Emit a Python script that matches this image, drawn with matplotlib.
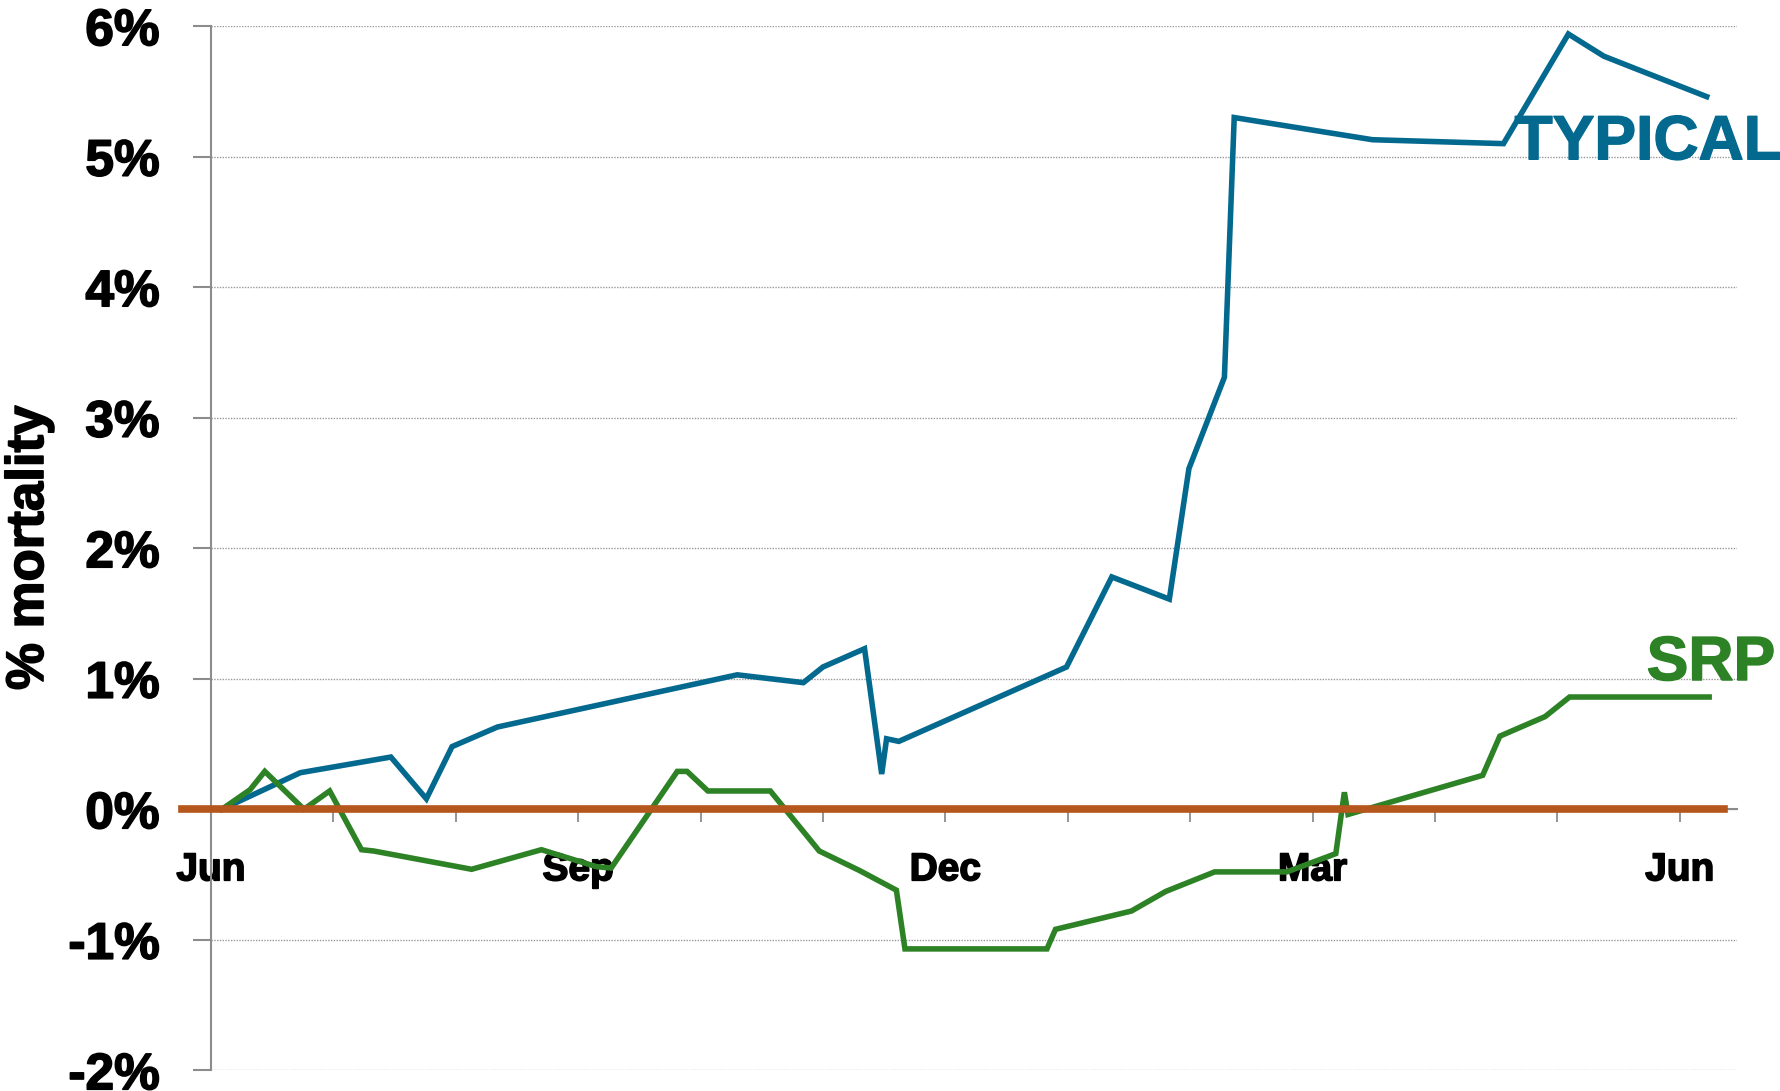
import matplotlib.pyplot as plt
import matplotlib.patheffects as pe
from matplotlib.ticker import FixedLocator, FuncFormatter

# months since June (0 = Jun, 12 = following Jun), values in % mortality
typical_x = [0.09, 0.73, 1.47, 1.76, 1.97, 2.34, 4.30, 4.84, 5.00, 5.34, 5.48, 5.52,
             5.62, 6.99, 7.36, 7.83, 7.99, 8.28, 8.36, 9.49, 10.56, 11.09, 11.38, 12.22]
typical_y = [0.00, 0.28, 0.40, 0.08, 0.48, 0.63, 1.03, 0.97, 1.09, 1.23, 0.27, 0.54,
             0.52, 1.09, 1.78, 1.61, 2.61, 3.31, 5.30, 5.13, 5.10, 5.94, 5.77, 5.46]

srp_x = [0.09, 0.32, 0.44, 0.76, 0.97, 1.23, 1.33, 2.13, 2.70, 3.15, 3.27, 3.81, 3.89,
         4.06, 4.57, 4.97, 5.30, 5.60, 5.67, 6.83, 6.90, 7.52, 7.80, 8.20, 8.79, 9.19,
         9.26, 9.29, 10.39, 10.53, 10.90, 11.10, 12.24]
srp_y = [0.00, 0.15, 0.29, 0.00, 0.14, -0.31, -0.32, -0.46, -0.31, -0.44, -0.45, 0.29, 0.29,
         0.14, 0.14, -0.32, -0.47, -0.62, -1.07, -1.07, -0.92, -0.78, -0.63, -0.48, -0.48, -0.34,
         0.13, -0.04, 0.26, 0.56, 0.71, 0.86, 0.86]

baseline_x = [-0.24, 12.36]
baseline_y = [0, 0]

month_ticks = list(range(13))
month_labels = {0: 'Jun', 3: 'Sep', 6: 'Dec', 9: 'Mar', 12: 'Jun'}
y_ticks = [-2, -1, 0, 1, 2, 3, 4, 5, 6]

blue = '#04698F'
green = '#2E8226'
orange = '#B5561C'
grey = '#8C8C8C'

plt.rcParams['font.family'] = ['Liberation Sans', 'DejaVu Sans']
plt.rcParams['font.weight'] = 'bold'

# the original uses a very heavy face, fake it with a thin outline
heavy = [pe.withStroke(linewidth=1.2, foreground='black')]

fig = plt.figure(figsize=(17.8, 10.91), dpi=100)
ax = fig.add_axes([0.1185, 0.019, 0.8575, 0.957])

ax.plot(typical_x, typical_y, color=blue, lw=4.0, solid_joinstyle='miter', zorder=3)
ax.plot(srp_x, srp_y, color=green, lw=4.0, solid_joinstyle='miter', zorder=3)
ax.plot(baseline_x, baseline_y, color=orange, lw=5.5, clip_on=False, zorder=4)

ax.set_xlim(0, 12.47)
ax.set_ylim(-2, 6)

for s in ['top', 'right']:
    ax.spines[s].set_visible(False)
ax.spines['left'].set_color(grey)
ax.spines['left'].set_linewidth(1.5)
ax.spines['bottom'].set_position(('data', 0))
ax.spines['bottom'].set_color(grey)
ax.spines['bottom'].set_linewidth(1.5)

ax.xaxis.set_major_locator(FixedLocator(month_ticks))
ax.xaxis.set_major_formatter(FuncFormatter(lambda v, p: month_labels.get(int(round(v)), '')))
ax.yaxis.set_major_locator(FixedLocator(y_ticks))
ax.yaxis.set_major_formatter(FuncFormatter(lambda v, p: '%d%%' % v))

ax.tick_params(axis='x', direction='out', length=9, width=1.3, color=grey, pad=22,
               labelsize=28)
ax.tick_params(axis='y', direction='out', length=13, width=1.5, color=grey, pad=24,
               labelsize=37)
for lab in ax.get_xticklabels() + ax.get_yticklabels():
    lab.set_fontweight('bold')
    lab.set_path_effects(heavy)

ax.yaxis.grid(True, linestyle=(0, (1, 1)), color='#9A9A9A', lw=1.0)
ax.set_axisbelow(True)

fig.text(29 / 1780, 1 - 548 / 1091, '% mortality', rotation=90, ha='center', va='center',
         fontsize=38, fontweight='bold', path_effects=heavy)

ax.text(10.65, 4.98, 'TYPICAL', color=blue, fontsize=45, fontweight='bold',
        ha='left', va='baseline', clip_on=False, zorder=5,
        path_effects=[pe.withStroke(linewidth=1.0, foreground=blue)])
ax.text(11.73, 0.99, 'SRP', color=green, fontsize=45, fontweight='bold',
        ha='left', va='baseline', clip_on=False, zorder=5,
        path_effects=[pe.withStroke(linewidth=1.0, foreground=green)])

fig.savefig('out.png', dpi=100)
